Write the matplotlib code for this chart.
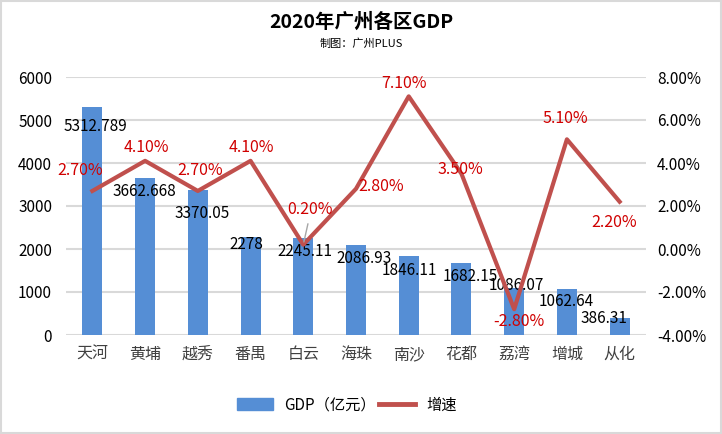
import matplotlib
matplotlib.use("Agg")
import matplotlib.pyplot as plt
from matplotlib.patches import Rectangle
from matplotlib.lines import Line2D
from matplotlib.ticker import FuncFormatter, MultipleLocator

plt.rcParams['font.family'] = ['Noto Sans CJK SC', 'DejaVu Sans']

districts = ['天河', '黄埔', '越秀', '番禺', '白云', '海珠', '南沙', '花都', '荔湾', '增城', '从化']
gdp = [5312.789, 3662.668, 3370.05, 2278, 2245.11, 2086.93, 1846.11, 1682.15, 1086.07, 1062.64, 386.31]
gdp_labels = ['5312.789', '3662.668', '3370.05', '2278', '2245.11', '2086.93', '1846.11', '1682.15', '1086.07', '1062.64', '386.31']
growth = [2.7, 4.1, 2.7, 4.1, 0.2, 2.8, 7.1, 3.5, -2.8, 5.1, 2.2]

# label offsets (pixels)
bar_off = [(3, -20), (-1, -14), (4, -23), (-4, -7), (2, -13), (8, -13), (1, -15), (9, -14), (2, 3), (-1, -12), (-16, 0)]
pct_off = [(-12, 20), (1, 13), (2, 20), (1, 13), (7, 35), (25, 2), (-5, 13), (-1, 4), (5, -12), (-2, 21), (-6, -21)]

W, H = 722, 434
fig = plt.figure(figsize=(W/100, H/100), dpi=100)
fig.patches.append(Rectangle((0.002, 0.003), 0.996, 0.994, transform=fig.transFigure,
                             fill=False, edgecolor='#D9D9D9', linewidth=1.5))

ax = fig.add_axes([66/W, 1-335/H, 580/W, 258/H])
ax2 = ax.twinx()
ax.set_zorder(1); ax2.set_zorder(2); ax.patch.set_visible(False); ax2.patch.set_visible(False)

x = list(range(len(districts)))
bar_color = '#558ED5'
line_color = '#C0504D'
ax.bar(x, gdp, width=0.38, color=bar_color, zorder=2)
ax.set_xlim(-0.5, len(districts) - 0.5)
ax.set_ylim(0, 6000)
ax.yaxis.set_major_locator(MultipleLocator(1000))
ax.grid(axis='y', color='#D9D9D9', linewidth=1.5, zorder=0)
ax.set_axisbelow(True)
for s in ax.spines.values():
    s.set_visible(False)
for s in ax2.spines.values():
    s.set_visible(False)
ax.set_xticks(x)
ax.set_xticklabels(districts, fontsize=11.5, color='#404040')
ax.tick_params(axis='both', length=0)
ax.tick_params(axis='y', labelsize=11, pad=10, labelcolor='black')
ax.tick_params(axis='x', pad=8)

ax2.plot(x, growth, color=line_color, linewidth=3, solid_joinstyle='round', zorder=3)
ax2.set_ylim(-4, 8)
ax2.yaxis.set_major_locator(MultipleLocator(2))
ax2.yaxis.set_major_formatter(FuncFormatter(lambda v, p: f'{v:.2f}%'))
ax2.tick_params(axis='y', length=0, labelsize=11, pad=8)

for i, (v, lab) in enumerate(zip(gdp, gdp_labels)):
    ax.annotate(lab, (i, v), xytext=bar_off[i], textcoords='offset pixels',
                ha='center', va='center', fontsize=11, color='black', zorder=5)

for i, v in enumerate(growth):
    ax2.annotate(f'{v:.2f}%', (i, v), xytext=pct_off[i], textcoords='offset pixels',
                 ha='center', va='center', fontsize=11.5, color='#D00000', zorder=5)
# leader line for 0.20%
ax2.annotate('', (4, growth[4]), xytext=(4.1, growth[4] + 1.1),
             arrowprops=dict(arrowstyle='-', color='#A6A6A6', lw=1), zorder=4)

fig.text(0.5, 1-22/H, '2020年广州各区GDP', ha='center', va='center', fontsize=14, fontweight='bold')
fig.text(0.5, 1-44/H, '制图：广州PLUS', ha='center', va='center', fontsize=8)

handles = [Rectangle((0, 0), 1, 1, color=bar_color), Line2D([0], [0], color=line_color, linewidth=3.5)]
fig.legend(handles, ['GDP（亿元）', '增速'], loc='center', bbox_to_anchor=(0.48, 1-405/H),
           ncol=2, frameon=False, fontsize=11, handlelength=2.4, handleheight=0.8,
           columnspacing=0.2, handletextpad=0.7)

fig.savefig('out.png', dpi=100)
